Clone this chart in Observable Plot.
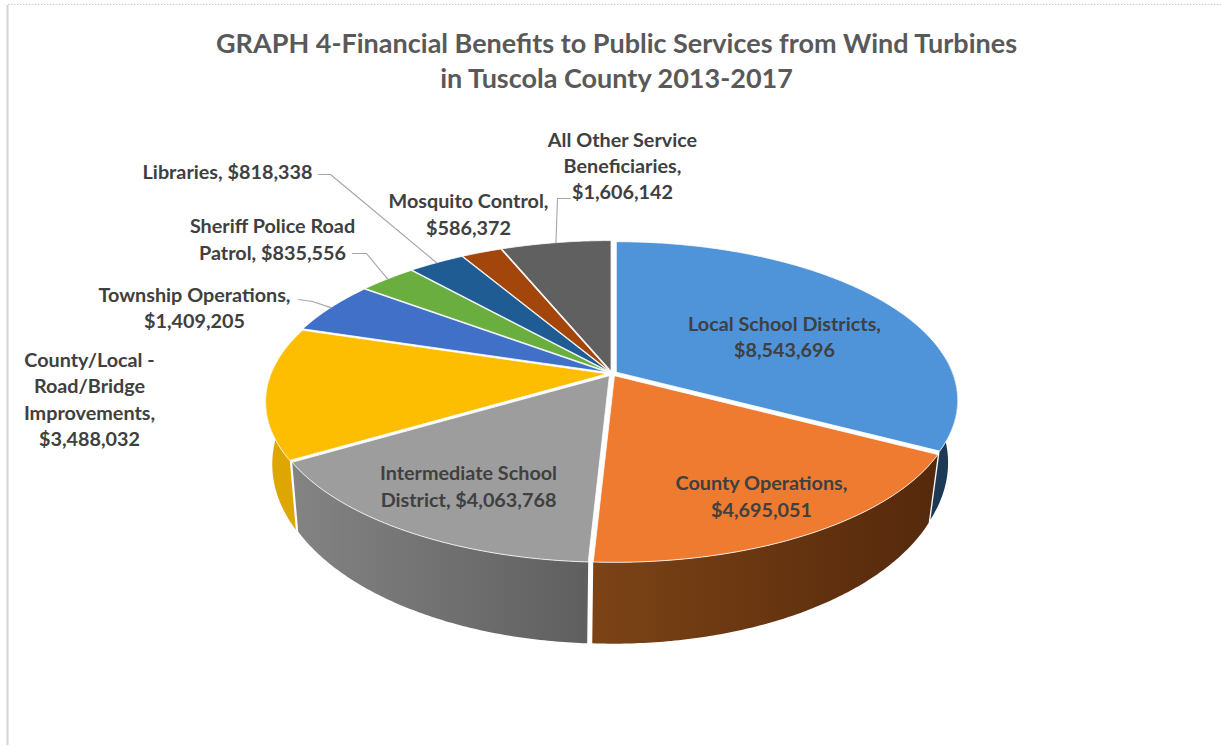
<!DOCTYPE html>
<html>
<head>
<meta charset="utf-8">
<script src="https://cdn.jsdelivr.net/npm/d3@7"></script>
<script src="https://cdn.jsdelivr.net/npm/@observablehq/plot@0.6"></script>
<style>
  html, body { margin: 0; padding: 0; background: #fff; overflow: hidden; }
  svg { display: block; }
</style>
</head>
<body>
<div id="chart"></div>
<script>
// Wind turbine revenue by public service, clockwise from twelve o'clock.
const categories = [
  "Local School Districts", "County Operations", "Intermediate School District",
  "County/Local - Road/Bridge Improvements", "Township Operations",
  "Sheriff Police Road Patrol", "Libraries", "Mosquito Control",
  "All Other Service Beneficiaries"
];
const values = [8543696, 4695051, 4063768, 3488032, 1409205, 835556, 818338, 586372, 1606142];
const labelLines = [
  "Local School Districts,\n$8,543,696",
  "County Operations,\n$4,695,051",
  "Intermediate School\nDistrict, $4,063,768",
  "County/Local -\nRoad/Bridge\nImprovements,\n$3,488,032",
  "Township Operations,\n$1,409,205",
  "Sheriff Police Road\nPatrol, $835,556",
  "Libraries, $818,338",
  "Mosquito Control,\n$586,372",
  "All Other Service\nBeneficiaries,\n$1,606,142"
];
const titleText = "GRAPH 4-Financial Benefits to Public Services from Wind Turbines\nin Tuscola County 2013-2017";

// Slice colours
const faceFills = ["#4f94d8", "#ee7b30", "#9d9d9d", "#fdbd00", "#4070c8", "#6bae40", "#205c94", "#a2460b", "#606060"];
const wallFills = ["#1c3a55", "url(#orange-wall)", "url(#gray-wall)", "#dda600", "#2a4a80", "#48702a", "#143c60", "#662d07", "#3e3e3e"];

// Label anchors, in page units
const labelX = [784, 761, 468, 89, 194, 272, 227, 468, 622];
const labelY = [335, 494.5, 484.5, 397.5, 306, 237.5, 170, 212.5, 164];

// Leader elbows; the far end of each leader is taken from its slice's rim
const leaderElbows = [
  { slice: 4, path: [[298, 299], [312, 301]] },
  { slice: 5, path: [[352, 253], [366, 253]] },
  { slice: 6, path: [[318, 174], [330, 174]] },
  { slice: 8, path: [[570, 198], [557, 198]] }
];

// Perspective view of the disc: the far edge is compressed, the near edge stretched
const tilt = 0.177;
const upperDisc = { cx: 611.5, cy: 373, a: 336, b: 153.6 };
const lowerDisc = { cx: 610, cy: 432, a: 328, b: 172 };
const explode = 5;

// Only this stretch of the rim faces the viewer and shows a side wall
const wallFrom = 85 * Math.PI / 180;
const wallTo = 272 * Math.PI / 180;

function project(disc, angle) {
  const u = Math.sin(angle), v = -Math.cos(angle), w = 1 - tilt * v;
  return { x: disc.cx + disc.a * u / w, y: disc.cy + disc.b * v / w };
}

const total = d3.sum(values);
const cumulative = d3.cumsum(values);

function sweep(start, end) {
  const steps = Math.max(4, Math.ceil((end - start) / 0.01));
  return d3.range(steps + 1).map(j => start + (end - start) * j / steps);
}

const slices = values.map((value, i) => {
  const end = cumulative[i] / total * 2 * Math.PI;
  const start = end - value / total * 2 * Math.PI;
  const mid = (start + end) / 2;
  const dx = explode * Math.sin(mid), dy = -explode * Math.cos(mid) * 0.5;
  const shift = p => ({ x: p.x + dx, y: p.y + dy });
  const rim = sweep(start, end).map(a => shift(project(upperDisc, a)));
  const apex = shift({ x: upperDisc.cx, y: upperDisc.cy });

  const wallStart = Math.max(start, wallFrom), wallEnd = Math.min(end, wallTo);
  let wall = [];
  if (wallEnd > wallStart) {
    const angles = sweep(wallStart, wallEnd);
    const top = angles.map(a => shift(project(upperDisc, a)));
    const bottom = angles.map(a => shift(project(lowerDisc, a)));
    wall = [...top, ...bottom.reverse(), top[0]];
  }
  return {
    index: i, start, end, mid, wall,
    face: [apex, ...rim, apex],
    anchor: shift(project(upperDisc, mid))
  };
});

const leaders = leaderElbows.flatMap(({ slice, path }) =>
  [...path.map(([x, y]) => ({ x, y })), slices[slice].anchor].map(p => ({ ...p, slice }))
);

const labels = categories.map((name, i) => ({ name, text: labelLines[i], x: labelX[i], y: labelY[i] }));

const wallGradients = () => {
  const defs = d3.create("svg:defs");
  const gradient = (id, x1, x2, from, to) => {
    const g = defs.append("linearGradient").attr("id", id)
      .attr("gradientUnits", "userSpaceOnUse")
      .attr("x1", x1).attr("x2", x2).attr("y1", 0).attr("y2", 0);
    g.append("stop").attr("offset", "0%").attr("stop-color", from);
    g.append("stop").attr("offset", "100%").attr("stop-color", to);
  };
  gradient("gray-wall", 295, 587, "#838383", "#5f5f5f");
  gradient("orange-wall", 592, 935, "#7c4316", "#55290c");
  return defs.node();
};

const chart = Plot.plot({
  width: 1221,
  height: 746,
  margin: 0,
  x: { domain: [0, 1221], range: [0, 1221], axis: null },
  y: { domain: [0, 746], range: [0, 746], axis: null },
  style: { background: "#fff", fontFamily: "Lato, sans-serif" },
  marks: [
    wallGradients,
    // Frame remnants along the left and top of the image
    Plot.ruleX([7], { y1: 5, y2: 745, stroke: "#d4d4d4", strokeWidth: 2 }),
    Plot.ruleY([4], { x1: 8, x2: 1221, stroke: "#c8c8c8", strokeWidth: 1, strokeDasharray: "1.5 1.5" }),

    ...slices.filter(s => s.wall.length).map(s => Plot.line(s.wall, {
      x: "x", y: "y", fill: wallFills[s.index], stroke: "none", curve: "linear"
    })),
    ...slices.map((s, i) => Plot.line(s.face, {
      x: "x", y: "y", fill: faceFills[i], stroke: "#fff", strokeWidth: 0.8, curve: "linear"
    })),

    Plot.line(leaders, {
      x: "x", y: "y", z: "slice", stroke: "#a6a6a6", strokeWidth: 1.1, curve: "linear"
    }),

    Plot.text(labels, {
      x: "x", y: "y", text: "text", fontSize: 19.8, fontWeight: 700,
      fill: "#404040", lineHeight: 1.33, lineAnchor: "middle", textAnchor: "middle"
    }),
    Plot.text([titleText], {
      x: () => 616, y: () => 59, text: d => d, fontSize: 27, fontWeight: 700,
      fill: "#595959", lineHeight: 1.3, lineAnchor: "middle", textAnchor: "middle"
    })
  ]
});
document.getElementById("chart").append(chart);
</script>
</body>
</html>
